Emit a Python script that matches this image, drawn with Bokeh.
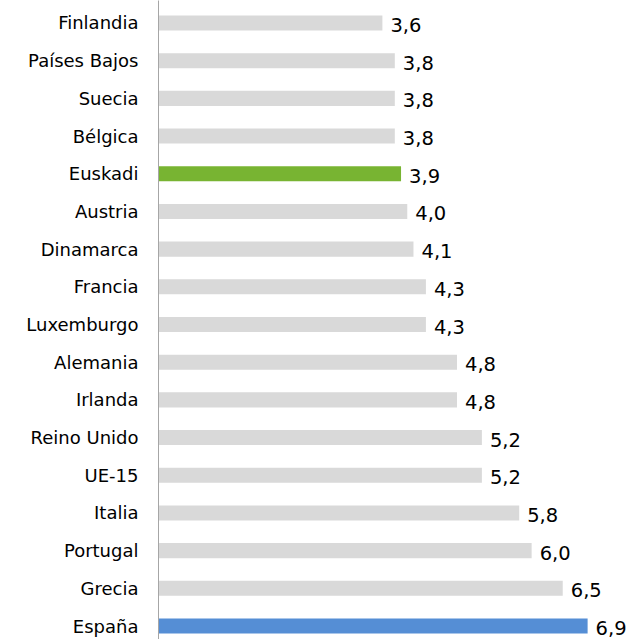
from bokeh.plotting import figure
from bokeh.models import Range1d, FixedTicker, ColumnDataSource
from bokeh.embed import file_html
from bokeh.resources import INLINE
from bokeh.core.properties import value

categories = ["Finlandia", "Países Bajos", "Suecia", "Bélgica", "Euskadi", "Austria",
              "Dinamarca", "Francia", "Luxemburgo", "Alemania", "Irlanda", "Reino Unido",
              "UE-15", "Italia", "Portugal", "Grecia", "España"]
values = [3.6, 3.8, 3.8, 3.8, 3.9, 4.0, 4.1, 4.3, 4.3, 4.8, 4.8, 5.2, 5.2, 5.8, 6.0, 6.5, 6.9]

n = len(categories)
pos = list(range(n))
colors = ["#78b432" if c == "Euskadi" else "#558ed5" if c == "España" else "#d9d9d9"
          for c in categories]
labels = [f"{v:.1f}".replace(".", ",") for v in values]
src = ColumnDataSource(dict(y=pos, v=values, c=colors, t=labels))

p = figure(width=635, height=639, output_backend="svg", toolbar_location=None,
           x_range=Range1d(0, 7.67), y_range=Range1d(n - 1 + 0.358, -0.597),
           x_axis_location=None,
           min_border_left=158, min_border_right=0, min_border_top=0, min_border_bottom=0)
p.hbar(y="y", left=0, right="v", height=0.4, fill_color="c", line_color=None, source=src)
p.text(x="v", y="y", text="t", x_offset=8, y_offset=2, text_align="left",
       text_baseline="middle", text_font=value("DejaVu Sans"), text_font_size="19.5px",
       text_color="#000000", source=src)

p.xgrid.visible = False
p.ygrid.visible = False
p.outline_line_color = None
p.yaxis.ticker = FixedTicker(ticks=pos)
p.yaxis.major_label_overrides = {i: c for i, c in enumerate(categories)}
p.yaxis.major_tick_line_color = None
p.yaxis.minor_tick_line_color = None
p.yaxis.major_tick_out = 0
p.yaxis.major_tick_in = 0
p.yaxis.minor_tick_out = 0
p.yaxis.major_label_standoff = 20
p.yaxis.axis_line_color = "#a6a6a6"
p.yaxis.major_label_text_font = "DejaVu Sans"
p.yaxis.major_label_text_font_size = "18px"
p.yaxis.major_label_text_color = "#000000"

open("out.html", "w").write(file_html(p, INLINE))
